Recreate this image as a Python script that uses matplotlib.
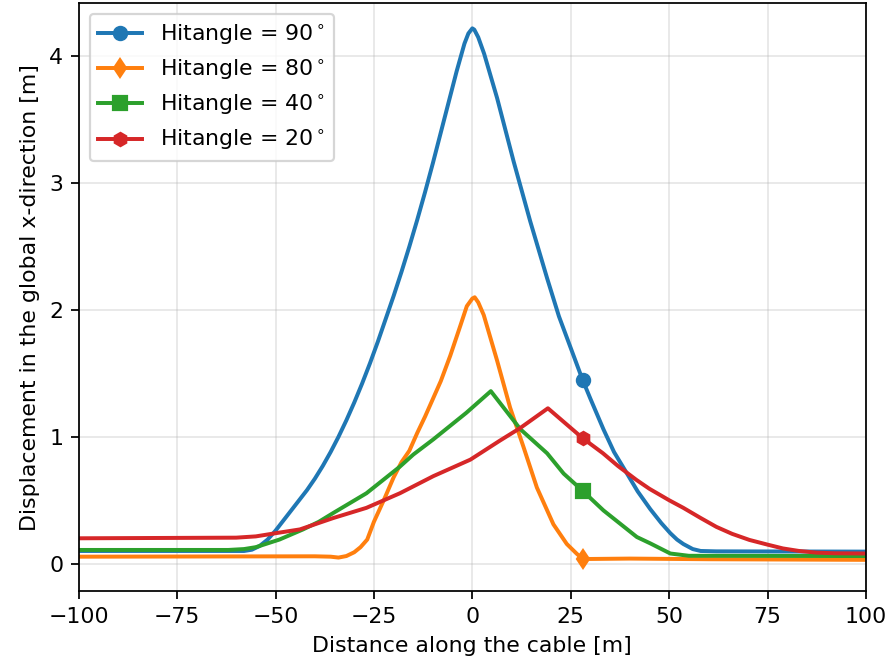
import matplotlib
matplotlib.use("Agg")
import matplotlib.pyplot as plt

# ---- data ----
x_90 = [-100, -58, -56, -54, -52, -50, -48, -46, -44, -42, -40, -38, -36, -34, -32, -30, -28, -26, -24, -22, -20,
        -18, -16, -14, -12, -10, -8, -6, -4, -2, -1, 0,
        0.5, 1.5, 3, 6.3, 10.5, 14.7, 19, 22, 25, 28, 30, 33.3, 36, 39.3, 42, 45.2, 48, 50.3, 52, 53.6, 56, 58, 62, 100]
y_90 = [0.10, 0.10, 0.11, 0.14, 0.19, 0.26, 0.34, 0.42, 0.50, 0.58, 0.67, 0.77, 0.88, 1.00, 1.13, 1.27, 1.42, 1.58, 1.75, 1.93, 2.11,
        2.30, 2.50, 2.71, 2.93, 3.16, 3.40, 3.64, 3.88, 4.10, 4.18, 4.22,
        4.21, 4.15, 4.02, 3.67, 3.17, 2.70, 2.25, 1.95, 1.70, 1.45, 1.30, 1.06, 0.88, 0.71, 0.57, 0.43, 0.32, 0.24, 0.19, 0.155, 0.115, 0.10, 0.097, 0.095]

x_80 = [-100, -40, -36, -34, -32, -30, -28.4, -26.7, -25, -22.5, -20, -18, -16, -14, -12, -10, -8, -5.6, -3, -1.4, 0, 0.6,
        1.5, 2.9, 6.3, 9.6, 13, 16.4, 20.6, 24, 26.6, 28, 30, 40, 60, 100]
y_80 = [0.055, 0.058, 0.055, 0.048, 0.06, 0.09, 0.13, 0.19, 0.33, 0.50, 0.68, 0.80, 0.89, 1.03, 1.16, 1.30, 1.44, 1.64, 1.88, 2.03, 2.09, 2.10,
        2.06, 1.96, 1.60, 1.23, 0.92, 0.60, 0.31, 0.155, 0.076, 0.04, 0.037, 0.04, 0.035, 0.03]

x_40 = [-100, -62, -58, -55, -52, -49, -46, -43, -39, -35.3, -26.9, -18.4, -15, -9.9, -1.5, 4.7,
        12.2, 19, 23.2, 28, 33.3, 41.8, 45.2, 50.3, 55, 100]
y_40 = [0.108, 0.108, 0.115, 0.13, 0.16, 0.19, 0.23, 0.27, 0.33, 0.40, 0.555, 0.765, 0.86, 0.98, 1.19, 1.36,
        1.06, 0.87, 0.71, 0.575, 0.42, 0.21, 0.16, 0.08, 0.062, 0.06]

x_20 = [-100, -60, -55, -50, -43.8, -35.3, -26.9, -18.4, -9.9, -0.5, 7, 12.2, 19.2,
        28, 33.2, 37, 41.7, 45, 50, 53.6, 58, 62, 66, 70.4, 75, 78.9, 83, 87.4, 92, 100]
y_20 = [0.20, 0.205, 0.215, 0.24, 0.27, 0.36, 0.44, 0.555, 0.69, 0.82, 0.97, 1.07, 1.225,
        0.99, 0.87, 0.77, 0.66, 0.59, 0.50, 0.44, 0.36, 0.29, 0.235, 0.187, 0.15, 0.12, 0.10, 0.087, 0.082, 0.08]

labels = [r"Hitangle = 90$^\circ$", r"Hitangle = 80$^\circ$",
          r"Hitangle = 40$^\circ$", r"Hitangle = 20$^\circ$"]
marker_x = 28

series = [(x_90, y_90, "o", "#1f77b4"),
          (x_80, y_80, "d", "#ff7f0e"),
          (x_40, y_40, "s", "#2ca02c"),
          (x_20, y_20, "h", "#d62728")]

DPI = 158.4
fig = plt.figure(figsize=(889 / DPI, 668 / DPI), dpi=DPI)
ax = fig.add_axes([0.0885, 0.1148, 0.8856, 0.8807])

for (xs, ys, m, c), lab in zip(series, labels):
    idx = xs.index(marker_x)
    ax.plot(xs, ys, color=c, marker=m, markevery=[idx], lw=1.8, label=lab)

ax.set_xlim(-100, 100)
ax.set_ylim(-0.218, 4.42)
ax.set_xticks([-100, -75, -50, -25, 0, 25, 50, 75, 100])
ax.set_yticks([0, 1, 2, 3, 4])
ax.grid(True, alpha=0.3)
ax.set_xlabel("Distance along the cable [m]")
ax.set_ylabel("Displacement in the global x-direction [m]")
ax.legend(loc="upper left")

fig.savefig("out.png", dpi=DPI)
